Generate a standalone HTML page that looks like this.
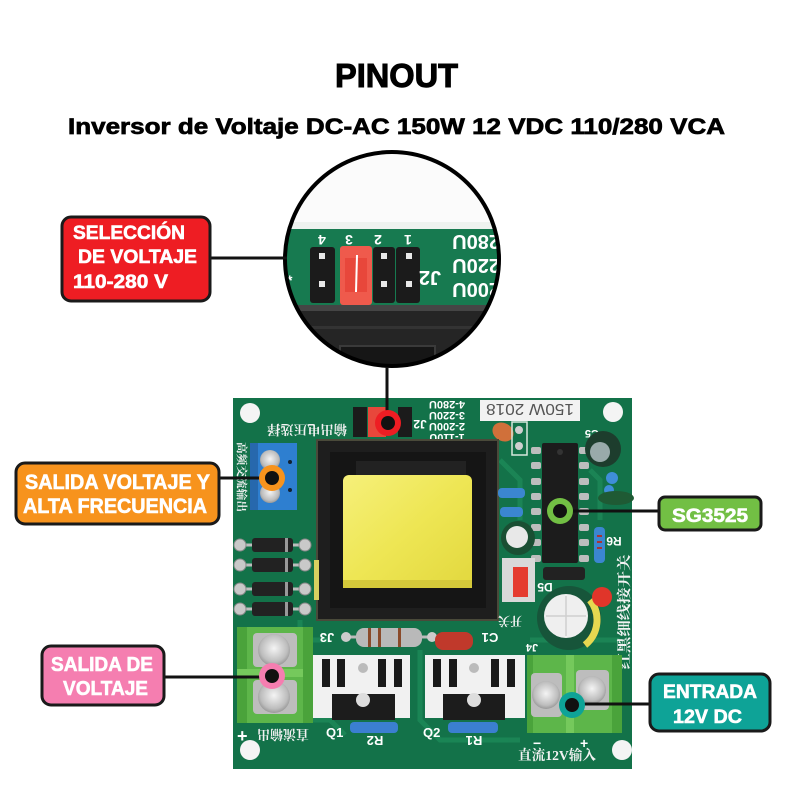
<!DOCTYPE html>
<html><head><meta charset="utf-8"><style>
html,body{margin:0;padding:0;background:#fff}
svg{display:block}
text{font-family:"Liberation Sans","Noto Sans CJK SC",sans-serif}
.w{fill:#fff;font-weight:700}
.lb{fill:#fff;font-weight:700;stroke:#fff;stroke-width:0.6}
.cn{font-family:"Liberation Serif","Noto Serif CJK SC","Noto Sans CJK SC",serif;fill:#f2f2f2;font-weight:700}
</style></head><body>
<svg width="800" height="800" viewBox="0 0 800 800" xmlns="http://www.w3.org/2000/svg">
<defs>
<clipPath id="cc"><circle cx="392" cy="259" r="107"/></clipPath>
<radialGradient id="scr" cx="50%" cy="45%" r="60%"><stop offset="0" stop-color="#f4f4f4"/><stop offset="0.7" stop-color="#bdbdbd"/><stop offset="1" stop-color="#8a8a8a"/></radialGradient>
<linearGradient id="yel" x1="0" y1="0" x2="1" y2="1"><stop offset="0" stop-color="#f6f07a"/><stop offset="0.5" stop-color="#eee654"/><stop offset="1" stop-color="#e2d83e"/></linearGradient>
</defs>
<rect width="800" height="800" fill="#fff"/>

<!-- Titles -->
<text x="335" y="87" font-size="33" font-weight="700" fill="#000" stroke="#000" stroke-width="1" textLength="123" lengthAdjust="spacingAndGlyphs">PINOUT</text>
<text x="68" y="134" font-size="22" font-weight="700" fill="#000" stroke="#000" stroke-width="0.7" textLength="657" lengthAdjust="spacingAndGlyphs">Inversor de Voltaje DC-AC 150W 12 VDC 110/280 VCA</text>

<!-- Magnified circle -->
<g clip-path="url(#cc)">
  <rect x="280" y="145" width="225" height="230" fill="#fbfbfb"/>
  <rect x="280" y="222" width="225" height="8" fill="#eef2ef"/>
  <rect x="280" y="229" width="225" height="78" fill="#177a50"/>
  <rect x="280" y="305" width="225" height="70" fill="#252525"/>
  <rect x="280" y="305" width="225" height="6" fill="#454545"/>
  <rect x="280" y="326" width="225" height="3" fill="#333"/>
  <rect x="340" y="346" width="95" height="25" fill="#161616" stroke="#3a3a3a" stroke-width="2"/>
  <g class="w" font-size="14">
    <text transform="rotate(180 322 240)" x="322" y="245" text-anchor="middle" fill="#fff">4</text>
    <text transform="rotate(180 349 240)" x="349" y="245" text-anchor="middle" fill="#fff">3</text>
    <text transform="rotate(180 378 240)" x="378" y="245" text-anchor="middle" fill="#fff">2</text>
    <text transform="rotate(180 408 240)" x="408" y="245" text-anchor="middle" fill="#fff">1</text>
  </g>
  <rect x="310" y="247" width="25" height="56" rx="3" fill="#1b1b1b"/>
  <rect x="373" y="247" width="22" height="56" rx="3" fill="#1b1b1b"/>
  <rect x="396" y="247" width="24" height="56" rx="3" fill="#1b1b1b"/>
  <rect x="340" y="246" width="32" height="59" rx="3" fill="#ef5a4c"/>
  <rect x="345" y="258" width="22" height="34" fill="#e8473b"/>
  <path d="M357 255 L356 292" stroke="#fff" stroke-width="2"/>
  <g fill="#e8e8e8">
    <rect x="319" y="253" width="6" height="6"/><rect x="319" y="281" width="6" height="6"/>
    <rect x="381" y="253" width="6" height="6"/><rect x="381" y="281" width="6" height="6"/>
    <rect x="406" y="253" width="6" height="6"/><rect x="406" y="281" width="6" height="6"/>
  </g>
  <text class="w" transform="rotate(180 430 278)" x="430" y="285" font-size="20" text-anchor="middle" fill="#fff">J2</text>
  <g class="w" font-size="20" fill="#fff">
    <text transform="rotate(180 475 242)" x="450" y="249">280U</text>
    <text transform="rotate(180 475 266)" x="450" y="273">220U</text>
    <text transform="rotate(180 475 290)" x="450" y="297">200U</text>
  </g>
  <text class="w" x="287" y="285" font-size="14" fill="#fff">*</text>
</g>
<circle cx="392" cy="259" r="107" fill="none" stroke="#000" stroke-width="4"/>

<!-- PCB -->
<rect x="233" y="398" width="399" height="371" fill="#137249"/>
<g stroke="#1c8757" stroke-width="5" fill="none" opacity="0.9">
  <path d="M300 620 L300 640 L330 640"/>
  <path d="M420 650 L420 720 L440 740 L520 740"/>
  <path d="M500 460 L520 480 L520 520"/>
  <path d="M590 470 L600 480 L600 520"/>
  <path d="M240 720 L330 720 L345 735"/>
  <path d="M530 640 L620 640"/>
</g>
<circle cx="250" cy="413" r="10" fill="#f4f4f4"/>
<circle cx="613" cy="412" r="10" fill="#f4f4f4"/>
<circle cx="250" cy="750" r="10" fill="#f4f4f4"/>
<circle cx="622" cy="750" r="10" fill="#f4f4f4"/>

<text class="cn" transform="rotate(180 307 430)" x="307" y="435" font-size="13" text-anchor="middle" textLength="80" lengthAdjust="spacingAndGlyphs">输出电压选择</text>
<rect x="353" y="407" width="14" height="30" fill="#1b1b1b"/>
<rect x="368" y="407" width="18" height="30" fill="#e8473b"/>
<rect x="398" y="407" width="14" height="30" fill="#1b1b1b"/>
<g class="w" font-size="11" fill="#fff">
  <text transform="rotate(180 447 405)" x="447" y="409" text-anchor="middle">4-280U</text>
  <text transform="rotate(180 447 416)" x="447" y="420" text-anchor="middle">3-220U</text>
  <text transform="rotate(180 447 427)" x="447" y="431" text-anchor="middle">2-200U</text>
  <text transform="rotate(180 447 438)" x="447" y="442" text-anchor="middle">1-110U</text>
  <text transform="rotate(180 420 424)" x="420" y="428" text-anchor="middle" font-size="12">J2</text>
</g>
<rect x="480" y="400" width="100" height="21" fill="#f2f2f2"/>
<text transform="rotate(180 530 410)" x="530" y="416" font-size="16" text-anchor="middle" fill="#555" font-family="Liberation Serif,serif" textLength="88" lengthAdjust="spacingAndGlyphs">150W 2018</text>
<ellipse cx="503" cy="432" rx="11" ry="9" fill="#d0703a" transform="rotate(30 503 432)"/>
<rect x="512" y="422" width="15" height="33" fill="none" stroke="#d8e8dd" stroke-width="1.5"/>
<circle cx="519" cy="430" r="4" fill="#cfcfcf"/><circle cx="519" cy="446" r="4" fill="#cfcfcf"/>
<text class="w" x="585" y="438" font-size="11" fill="#fff" transform="rotate(180 592 434)">C5</text>

<rect x="250" y="443" width="47" height="67" fill="#2e7fd0"/>
<rect x="250" y="443" width="8" height="67" fill="#2768ad"/>
<circle cx="270" cy="460" r="10" fill="url(#scr)"/>
<circle cx="270" cy="493" r="10" fill="url(#scr)"/>
<circle cx="290" cy="462" r="2" fill="#123"/><circle cx="290" cy="490" r="2" fill="#123"/>
<text class="cn" transform="rotate(90 242 477)" x="242" y="481" font-size="11" text-anchor="middle" textLength="70" lengthAdjust="spacingAndGlyphs">高频交流输出</text>

<g>
  <g stroke="#bdbdbd" stroke-width="3"><path d="M240 545 H305"/><path d="M240 565 H305"/><path d="M240 589 H305"/><path d="M240 609 H305"/></g>
  <g fill="#c9c9c9" stroke="#888" stroke-width="1">
    <circle cx="240" cy="545" r="6"/><circle cx="305" cy="545" r="6"/>
    <circle cx="240" cy="565" r="6"/><circle cx="305" cy="565" r="6"/>
    <circle cx="240" cy="589" r="6"/><circle cx="305" cy="589" r="6"/>
    <circle cx="240" cy="609" r="6"/><circle cx="305" cy="609" r="6"/>
  </g>
  <g fill="#222">
    <rect x="252" y="538" width="41" height="14" rx="3"/><rect x="252" y="558" width="41" height="14" rx="3"/>
    <rect x="252" y="582" width="41" height="14" rx="3"/><rect x="252" y="602" width="41" height="14" rx="3"/>
  </g>
  <g fill="#999"><rect x="285" y="538" width="3" height="14"/><rect x="285" y="558" width="3" height="14"/><rect x="285" y="582" width="3" height="14"/><rect x="285" y="602" width="3" height="14"/></g>
</g>

<rect x="317" y="440" width="181" height="180" fill="#1e1e1e" stroke="#4a4a3a" stroke-width="2"/>
<rect x="330" y="452" width="156" height="156" fill="#151515"/>
<rect x="356" y="461" width="110" height="16" fill="#222"/>
<rect x="343" y="475" width="129" height="112" rx="6" fill="url(#yel)"/>
<rect x="343" y="580" width="129" height="8" fill="#d4c93a"/>
<rect x="314" y="560" width="5" height="40" fill="#d8d060"/>

<g fill="#bdbdbd">
  <rect x="531" y="447" width="10" height="7" rx="2"/><rect x="531" y="462" width="10" height="7" rx="2"/><rect x="531" y="478" width="10" height="7" rx="2"/><rect x="531" y="493" width="10" height="7" rx="2"/>
  <rect x="531" y="508" width="10" height="7" rx="2"/><rect x="531" y="524" width="10" height="7" rx="2"/><rect x="531" y="539" width="10" height="7" rx="2"/><rect x="531" y="555" width="10" height="7" rx="2"/>
  <rect x="579" y="447" width="10" height="7" rx="2"/><rect x="579" y="462" width="10" height="7" rx="2"/><rect x="579" y="478" width="10" height="7" rx="2"/><rect x="579" y="493" width="10" height="7" rx="2"/>
  <rect x="579" y="508" width="10" height="7" rx="2"/><rect x="579" y="524" width="10" height="7" rx="2"/><rect x="579" y="539" width="10" height="7" rx="2"/><rect x="579" y="555" width="10" height="7" rx="2"/>
</g>
<rect x="542" y="443" width="36" height="120" rx="2" fill="#1c1c1c"/>
<circle cx="560" cy="452" r="3" fill="#333"/>
<rect x="543" y="567" width="42" height="13" rx="3" fill="#222"/>
<circle cx="603" cy="449" r="18" fill="#1d3d2d"/><circle cx="600" cy="452" r="10" fill="#9aa"/>
<circle cx="612" cy="478" r="6" fill="#3f8ed8"/><circle cx="609" cy="490" r="5" fill="#3f8ed8"/>
<ellipse cx="616" cy="498" rx="18" ry="7" fill="#1f5a34"/>
<rect x="498" y="488" width="27" height="10" rx="4" fill="#3b86d0"/>
<rect x="500" y="507" width="23" height="10" rx="4" fill="#3b86d0"/>
<rect x="594" y="527" width="11" height="36" rx="4" fill="#3b86d0"/>
<g fill="#a33"><rect x="597" y="535" width="5" height="2"/><rect x="597" y="541" width="5" height="2"/><rect x="597" y="547" width="5" height="2"/></g>
<text class="w" transform="rotate(180 614 542)" x="614" y="547" font-size="12" text-anchor="middle" fill="#fff">R6</text>
<circle cx="518" cy="538" r="17" fill="#1a4f33"/><circle cx="517" cy="537" r="11" fill="#e8e8e8"/>
<rect x="502" y="558" width="33" height="44" fill="#d9d9d9"/>
<rect x="513" y="567" width="15" height="30" fill="#e53b2f"/>
<text class="w" transform="rotate(180 545 588)" x="545" y="593" font-size="12" text-anchor="middle" fill="#fff">D5</text>
<text class="cn" transform="rotate(180 510 622)" x="510" y="627" font-size="12" text-anchor="middle">开关</text>
<circle cx="569" cy="618" r="32" fill="#17553a"/>
<path d="M590 600 A32 32 0 0 1 585 645" stroke="#e6d850" stroke-width="7" fill="none"/>
<circle cx="566" cy="616" r="22" fill="#efefef"/>
<path d="M566 596 V636 M546 616 H586" stroke="#cfcfcf" stroke-width="1.5"/>
<circle cx="602" cy="597" r="10" fill="#e0352a"/>
<text class="cn" transform="rotate(-90 624 612)" x="624" y="617" font-size="14" text-anchor="middle" textLength="115" lengthAdjust="spacingAndGlyphs">红黑细线接开关</text>

<rect x="237" y="627" width="76" height="96" fill="#5db64a"/>
<rect x="237" y="627" width="10" height="96" fill="#4aa33b"/>
<rect x="237" y="669" width="76" height="8" fill="#75c95c"/>
<rect x="303" y="627" width="10" height="96" fill="#4aa33b"/>
<rect x="253" y="633" width="44" height="34" rx="4" fill="#bdbdbd"/>
<rect x="253" y="680" width="44" height="34" rx="4" fill="#bdbdbd"/>
<circle cx="274" cy="650" r="16" fill="url(#scr)"/>
<circle cx="274" cy="697" r="16" fill="url(#scr)"/>

<path d="M345 637 H435" stroke="#bbb" stroke-width="3"/>
<circle cx="346" cy="637" r="5" fill="#ccc"/><circle cx="432" cy="637" r="5" fill="#ccc"/>
<rect x="356" y="628" width="66" height="19" rx="8" fill="#b9b9b9"/>
<g fill="#8a4a2a"><rect x="368" y="628" width="3" height="19"/><rect x="378" y="628" width="3" height="19"/><rect x="398" y="628" width="3" height="19"/></g>
<rect x="435" y="632" width="38" height="18" rx="8" fill="#c0392b"/>
<text class="w" transform="rotate(180 327 638)" x="327" y="643" font-size="13" text-anchor="middle" fill="#fff">J3</text>
<text class="w" transform="rotate(180 490 638)" x="490" y="643" font-size="13" text-anchor="middle" fill="#fff">C1</text>
<text class="w" transform="rotate(180 532 648)" x="532" y="652" font-size="11" text-anchor="middle" fill="#fff">J4</text>

<g>
  <rect x="313" y="655" width="97" height="63" fill="#f1f1f1"/>
  <g fill="#1a1a1a"><rect x="322" y="659" width="8" height="28"/><rect x="337" y="659" width="8" height="28"/><rect x="378" y="659" width="8" height="28"/><rect x="394" y="659" width="8" height="28"/></g>
  <rect x="332" y="694" width="63" height="26" fill="#1c1c1c"/>
  <circle cx="363" cy="700" r="7" fill="#ddd"/>
  <circle cx="363" cy="668" r="5" fill="#bbb"/>
  <rect x="425" y="655" width="100" height="63" fill="#f1f1f1"/>
  <g fill="#1a1a1a"><rect x="433" y="659" width="8" height="28"/><rect x="449" y="659" width="8" height="28"/><rect x="491" y="659" width="8" height="28"/><rect x="507" y="659" width="8" height="28"/></g>
  <rect x="443" y="694" width="62" height="26" fill="#1c1c1c"/>
  <circle cx="474" cy="700" r="7" fill="#ddd"/>
  <circle cx="474" cy="668" r="5" fill="#bbb"/>
</g>
<rect x="350" y="722" width="48" height="11" rx="4" fill="#3b7fd0"/>
<rect x="448" y="722" width="50" height="11" rx="4" fill="#3b7fd0"/>
<g class="w" font-size="13" fill="#fff">
  <text x="326" y="737">Q1</text><text x="423" y="737">Q2</text>
  <text transform="rotate(180 375 741)" x="375" y="746" text-anchor="middle">R2</text>
  <text transform="rotate(180 474 741)" x="474" y="746" text-anchor="middle">R1</text>
  <text x="237" y="742" font-size="18">+</text>
</g>
<text class="cn" transform="rotate(180 283 735)" x="283" y="740" font-size="13" text-anchor="middle" textLength="52" lengthAdjust="spacingAndGlyphs">直流输出</text>

<rect x="527" y="655" width="95" height="78" fill="#5db64a"/>
<rect x="527" y="655" width="6" height="78" fill="#4aa33b"/>
<rect x="566" y="655" width="8" height="78" fill="#75c95c"/>
<rect x="612" y="655" width="10" height="78" fill="#4aa33b"/>
<rect x="531" y="673" width="31" height="44" rx="4" fill="#bdbdbd"/>
<rect x="576" y="670" width="33" height="40" rx="4" fill="#bdbdbd"/>
<circle cx="546" cy="695" r="14" fill="url(#scr)"/>
<circle cx="592" cy="690" r="14" fill="url(#scr)"/>
<g class="w" fill="#fff"><text x="533" y="748" font-size="14">−</text><text x="580" y="748" font-size="14">+</text></g>
<text class="cn" x="518" y="760" font-size="14" textLength="78" lengthAdjust="spacingAndGlyphs">直流12V输入</text>

<g stroke="#111" stroke-width="3" fill="none">
  <path d="M210 258 H287"/>
  <path d="M387 367 V414"/>
  <path d="M219 478 H268"/>
  <path d="M164 677 H268"/>
  <path d="M562 511 H659"/>
  <path d="M574 704 H650"/>
</g>
<circle cx="388" cy="423" r="13" fill="#ee1d23"/><circle cx="388" cy="423" r="7" fill="#111"/>
<circle cx="272" cy="478" r="13" fill="#f7931d"/><circle cx="272" cy="478" r="7" fill="#111"/>
<circle cx="560" cy="511" r="13" fill="#72bf44"/><circle cx="560" cy="511" r="7" fill="#111"/>
<circle cx="272" cy="676" r="13" fill="#f57eb0"/><circle cx="272" cy="676" r="7" fill="#111"/>
<circle cx="572" cy="705" r="13" fill="#0ea397"/><circle cx="572" cy="705" r="7" fill="#111"/>

<rect x="62" y="217" width="148" height="84" rx="9" fill="#ee1d23" stroke="#1a1a1a" stroke-width="3"/>
<text class="lb" x="73" y="239" font-size="19" textLength="112" lengthAdjust="spacingAndGlyphs">SELECCIÓN</text>
<text class="lb" x="78" y="263" font-size="19" textLength="119" lengthAdjust="spacingAndGlyphs">DE VOLTAJE</text>
<text class="lb" x="73" y="288" font-size="19" textLength="95" lengthAdjust="spacingAndGlyphs">110-280 V</text>

<rect x="16" y="463" width="203" height="61" rx="9" fill="#f7931d" stroke="#1a1a1a" stroke-width="3"/>
<text class="lb" x="25" y="489" font-size="21" textLength="185" lengthAdjust="spacingAndGlyphs">SALIDA VOLTAJE Y</text>
<text class="lb" x="23" y="513" font-size="21" textLength="184" lengthAdjust="spacingAndGlyphs">ALTA FRECUENCIA</text>

<rect x="42" y="646" width="122" height="59" rx="9" fill="#f57eb0" stroke="#1a1a1a" stroke-width="3"/>
<text class="lb" x="51" y="671" font-size="20" textLength="102" lengthAdjust="spacingAndGlyphs">SALIDA DE</text>
<text class="lb" x="63" y="695" font-size="20" textLength="85" lengthAdjust="spacingAndGlyphs">VOLTAJE</text>

<rect x="659" y="497" width="102" height="33" rx="6" fill="#72bf44" stroke="#1a1a1a" stroke-width="3"/>
<text class="lb" x="672" y="522" font-size="19" textLength="76" lengthAdjust="spacingAndGlyphs">SG3525</text>

<rect x="650" y="674" width="120" height="57" rx="9" fill="#0ea397" stroke="#1a1a1a" stroke-width="3"/>
<text class="lb" x="663" y="698" font-size="19" textLength="94" lengthAdjust="spacingAndGlyphs">ENTRADA</text>
<text class="lb" x="673" y="723" font-size="19" textLength="69" lengthAdjust="spacingAndGlyphs">12V DC</text>
</svg>
</body></html>
